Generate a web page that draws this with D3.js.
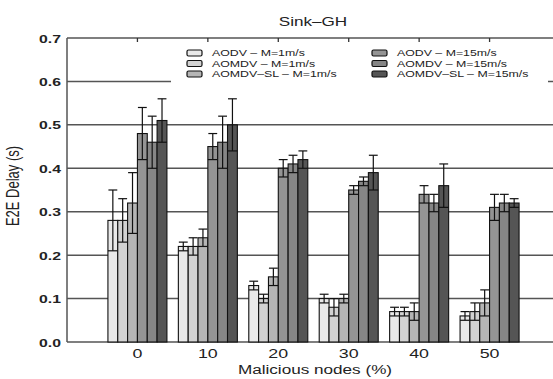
<!DOCTYPE html>
<html><head><meta charset="utf-8">
<script src="https://cdn.jsdelivr.net/npm/d3@7"></script>
<style>body{margin:0;background:#fff}svg{display:block}text{font-family:"Liberation Sans",Arial,sans-serif;fill:#222}</style>
</head><body><svg id="c" width="553" height="379"></svg>
<script>
const categories = [0, 10, 20, 30, 40, 50];
const seriesNames = ["AODV – M=1m/s", "AOMDV – M=1m/s", "AOMDV–SL – M=1m/s", "AODV – M=15m/s", "AOMDV – M=15m/s", "AOMDV–SL – M=15m/s"];
const aodv1     = [0.28, 0.22, 0.13, 0.10, 0.07, 0.06];
const aodv1Err  = [0.07, 0.01, 0.01, 0.01, 0.01, 0.01];
const aomdv1    = [0.28, 0.22, 0.10, 0.08, 0.07, 0.07];
const aomdv1Err = [0.05, 0.02, 0.01, 0.02, 0.01, 0.02];
const sl1       = [0.32, 0.24, 0.15, 0.10, 0.07, 0.09];
const sl1Err    = [0.07, 0.02, 0.02, 0.01, 0.02, 0.03];
const aodv15    = [0.48, 0.45, 0.40, 0.35, 0.34, 0.31];
const aodv15Err = [0.06, 0.03, 0.02, 0.01, 0.02, 0.03];
const aomdv15   = [0.46, 0.46, 0.41, 0.37, 0.32, 0.32];
const aomdv15Err= [0.06, 0.06, 0.02, 0.01, 0.02, 0.02];
const sl15      = [0.51, 0.50, 0.42, 0.39, 0.36, 0.32];
const sl15Err   = [0.05, 0.06, 0.02, 0.04, 0.05, 0.01];
const yTicks = [0.0, 0.1, 0.2, 0.3, 0.4, 0.5, 0.6, 0.7];
const title = "Sink–GH", xTitle = "Malicious nodes (%)", yTitle = "E2E Delay (s)";

const values = [aodv1, aomdv1, sl1, aodv15, aomdv15, sl15];
const errors = [aodv1Err, aomdv1Err, sl1Err, aodv15Err, aomdv15Err, sl15Err];
const colors = ["#e9e9e9", "#d2d2d2", "#b5b5b5", "#949494", "#868686", "#555555"];

const svg = d3.select("#c");
const L = 67, R = 560, T = 38, B = 342;
const x = d3.scaleLinear().domain([-10, 60]).range([L, R]);
const y = d3.scaleLinear().domain([0, 0.7]).range([B, T]);
const groupW = 59;
const inner = d3.scaleBand().domain(d3.range(6)).range([-groupW / 2, groupW / 2]).padding(0);
const bw = inner.bandwidth();
const STRETCH = 1.37;

// gridlines
svg.append("g").selectAll("line").data(yTicks.filter(v => v > 0 && v < 0.7)).join("line")
  .attr("x1", L).attr("x2", 553).attr("y1", d => y(d)).attr("y2", d => y(d))
  .attr("stroke", "#555").attr("stroke-width", 1.5);

// frame
const frame = svg.append("g").attr("stroke", "#555").attr("stroke-width", 1.5).attr("fill", "none");
frame.append("line").attr("x1", L).attr("x2", 553).attr("y1", T).attr("y2", T);
frame.append("line").attr("x1", L).attr("x2", 553).attr("y1", B).attr("y2", B);
frame.append("line").attr("x1", L).attr("x2", L).attr("y1", T).attr("y2", B);
// top ticks
svg.append("g").selectAll("line").data(categories).join("line")
  .attr("x1", d => x(d)).attr("x2", d => x(d)).attr("y1", T).attr("y2", T + 4)
  .attr("stroke", "#333").attr("stroke-width", 1.3);

// legend box
svg.append("rect").attr("x", 171).attr("y", 43).attr("width", 377).attr("height", 43).attr("fill", "#fff");
const lg = svg.append("g");
seriesNames.forEach((name, i) => {
  const col = Math.floor(i / 3), row = i % 3;
  const sx = col === 0 ? 187 : 372, cy = 53 + row * 10.5;
  lg.append("rect").attr("x", sx).attr("y", cy - 3).attr("width", 15).attr("height", 6).attr("rx", 1.5)
    .attr("fill", colors[i]).attr("stroke", "#111").attr("stroke-width", 1.2);
  lg.append("text").attr("class", "st").attr("x", sx + 25).attr("y", cy + 3.2).attr("font-size", 9).attr("fill", "#333").text(name);
});

// bars
const groups = svg.append("g").selectAll("g").data(categories).join("g")
  .attr("transform", d => `translate(${x(d)},0)`);
groups.each(function (c, ci) {
  const g = d3.select(this);
  values.forEach((arr, si) => {
    const v = arr[ci], e = errors[si][ci];
    const bx = inner(si);
    g.append("rect").attr("x", bx).attr("y", y(v)).attr("width", bw).attr("height", y(0) - y(v))
      .attr("fill", colors[si]).attr("stroke", "#111").attr("stroke-width", 1.1);
    const cx = bx + bw / 2;
    const eg = g.append("g").attr("stroke", "#111").attr("stroke-width", 1.2);
    eg.append("line").attr("x1", cx).attr("x2", cx).attr("y1", y(v + e)).attr("y2", y(v - e));
    eg.append("line").attr("x1", cx - bw * 0.45).attr("x2", cx + bw * 0.45).attr("y1", y(v + e)).attr("y2", y(v + e));
    eg.append("line").attr("x1", bx).attr("x2", bx + bw).attr("y1", y(v - e)).attr("y2", y(v - e));
  });
});

// y tick labels
svg.append("g").selectAll("text").data(yTicks).join("text").attr("class", "st")
  .attr("x", 61).attr("y", d => y(d) + 4.5).attr("text-anchor", "end").attr("font-size", 11.5).attr("font-weight", "bold")
  .attr("fill", "#333").text(d => d.toFixed(1));
// x tick labels
svg.append("g").selectAll("text").data(categories).join("text").attr("class", "st")
  .attr("x", d => x(d)).attr("y", 358).attr("text-anchor", "middle").attr("font-size", 13).text(d => d);
// titles
svg.append("text").attr("class", "st").attr("x", 313).attr("y", 26).attr("text-anchor", "middle").attr("font-size", 12.5).text(title);
svg.append("text").attr("class", "st").attr("x", 315).attr("y", 374).attr("text-anchor", "middle").attr("font-size", 12.5).text(xTitle);
svg.append("text").attr("transform", `translate(19,186) rotate(-90) scale(1,${STRETCH})`)
  .attr("text-anchor", "middle").attr("font-size", 13).attr("fill", "#2a2a4a").text(yTitle);

// horizontal stretch to mimic the reference's aspect
svg.selectAll("text.st").each(function () {
  const n = this.getComputedTextLength();
  d3.select(this).attr("textLength", n * STRETCH).attr("lengthAdjust", "spacingAndGlyphs");
});
</script></body></html>
